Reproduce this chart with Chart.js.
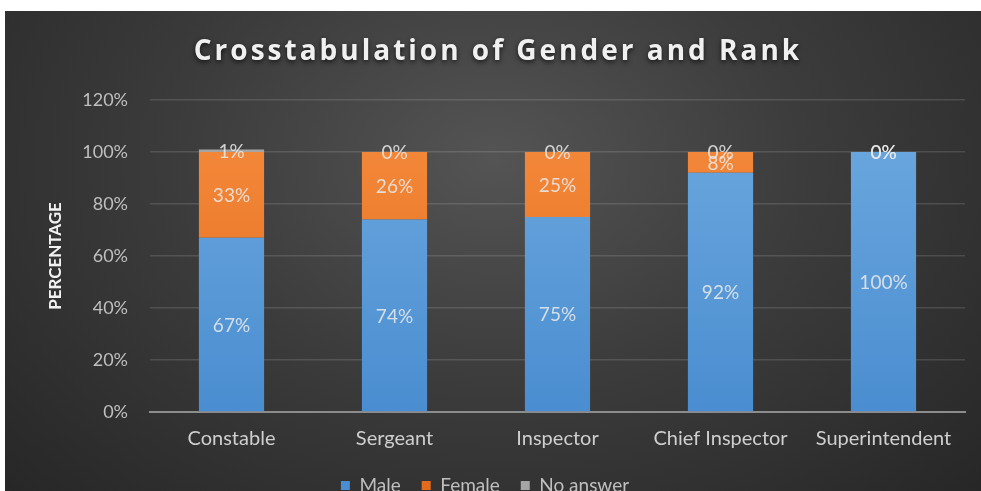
<!DOCTYPE html>
<html>
<head>
<meta charset="utf-8">
<script src="https://cdn.jsdelivr.net/npm/chart.js@4"></script>
<style>
  html, body { margin: 0; padding: 0; background: #fff; overflow: hidden; }
  #wrap {
    position: absolute; left: 5px; top: 11px; width: 976px; height: 494px;
    background: radial-gradient(ellipse at 50% 30%, #545454 0%, #3c3c3c 45%, #262626 100%);
  }
</style>
</head>
<body>
<div id="wrap"><canvas id="chart"></canvas></div>
<script>
// Ranks and share of each gender (percent)
const ranks = ["Constable", "Sergeant", "Inspector", "Chief Inspector", "Superintendent"];
const male = [67, 74, 75, 92, 100];
const female = [33, 26, 25, 8, 0];
const noAnswer = [1, 0, 0, 0, 0];
const yTicks = [0, 20, 40, 60, 80, 100, 120];
const chartTitle = "Crosstabulation of Gender and Rank";

const FONT = "Lato, 'Open Sans', sans-serif";

// vertical gradient on each bar, lighter at the top
function barFill(light, dark) {
  return function (c) {
    const area = c.chart.chartArea;
    if (!area) return dark;
    const g = c.chart.ctx.createLinearGradient(0, area.top, 0, area.bottom);
    g.addColorStop(0, light);
    g.addColorStop(1, dark);
    return g;
  };
}

// spaced-out title with a soft drop shadow
const shadowTitle = {
  id: "shadowTitle",
  afterDraw(chart) {
    const ctx = chart.ctx;
    ctx.save();
    ctx.font = "bold 28px 'Open Sans', sans-serif";
    ctx.letterSpacing = "3px";
    ctx.fillStyle = "#f0f0f0";
    ctx.textAlign = "center";
    ctx.textBaseline = "alphabetic";
    ctx.shadowColor = "rgba(0,0,0,0.7)";
    ctx.shadowBlur = 5;
    ctx.shadowOffsetY = 2;
    ctx.fillText(chartTitle, 493, 49);
    ctx.restore();
  }
};

// percent labels in the middle of each segment
const segmentLabels = {
  id: "segmentLabels",
  afterDatasetsDraw(chart) {
    const ctx = chart.ctx;
    ctx.save();
    ctx.font = "19px " + FONT;
    ctx.fillStyle = "rgba(235,235,235,0.85)";
    ctx.textAlign = "center";
    ctx.textBaseline = "middle";
    chart.data.datasets.forEach((ds, i) => {
      const meta = chart.getDatasetMeta(i);
      meta.data.forEach((bar, j) => {
        const y = (bar.y + bar.base) / 2;
        ctx.fillText(ds.data[j] + "%", bar.x, y + 1);
      });
    });
    ctx.restore();
  }
};

new Chart(document.getElementById("chart"), {
  type: "bar",
  data: {
    labels: ranks,
    datasets: [
      { label: "Male", data: male, backgroundColor: barFill("#6eaae0", "#4a8dd0") },
      { label: "Female", data: female, backgroundColor: barFill("#f68c3e", "#e26c1c") },
      { label: "No answer", data: noAnswer, backgroundColor: "#a5a5a5" }
    ]
  },
  options: {
    responsive: true,
    maintainAspectRatio: false,
    animation: false,
    layout: { padding: { left: 0, right: 16, top: 89, bottom: 0 } },
    datasets: { bar: { categoryPercentage: 1, barPercentage: 0.4 } },
    plugins: {
      title: { display: false },
      legend: {
        position: "bottom",
        labels: {
          color: "#bfbfbf",
          boxWidth: 9,
          boxHeight: 9,
          padding: 21,
          font: { family: FONT, size: 19 }
        }
      },
      tooltip: { enabled: false }
    },
    scales: {
      x: {
        stacked: true,
        grid: { display: false },
        border: { color: "#8c8c8c", width: 2 },
        afterFit(scale) { scale.height = 43; },
        ticks: { color: "#cfcfcf", font: { family: FONT, size: 20 }, padding: 7 }
      },
      y: {
        stacked: true,
        min: 0,
        max: 120,
        afterBuildTicks(scale) {
          scale.ticks = yTicks.map(v => ({ value: v }));
        },
        afterFit(scale) { scale.width = 145; },
        grid: { color: "rgba(255,255,255,0.13)", lineWidth: 1.5, drawTicks: false },
        border: { display: false },
        ticks: {
          color: "#bfbfbf",
          font: { family: FONT, size: 18 },
          padding: 22,
          callback: v => v + "%"
        },
        title: {
          display: true,
          text: "PERCENTAGE",
          color: "#f2f2f2",
          font: { family: FONT, size: 17, weight: "bold" },
          padding: { top: 40, bottom: 0 }
        }
      }
    }
  },
  plugins: [segmentLabels, shadowTitle]
});
</script>
</body>
</html>
